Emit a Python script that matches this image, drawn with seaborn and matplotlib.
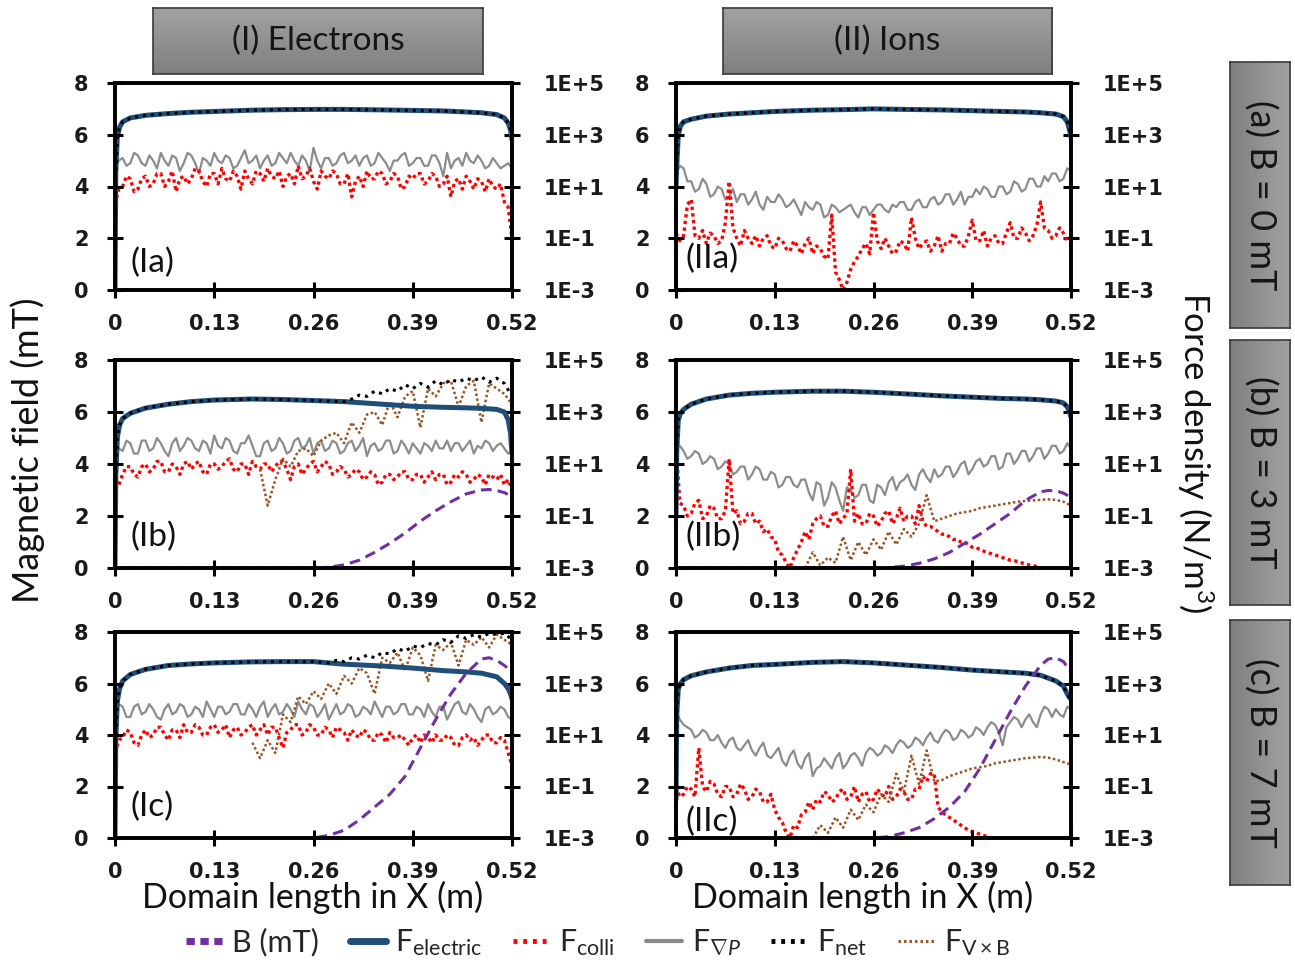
import numpy as np
import matplotlib
matplotlib.use("Agg")
import matplotlib.pyplot as plt
import seaborn as sns
from matplotlib.lines import Line2D
from matplotlib.colors import LinearSegmentedColormap

sns.set_theme(style="white")
plt.rcParams['font.family'] = ['Lato', 'DejaVu Sans']
plt.rcParams['mathtext.fontset'] = 'custom'
plt.rcParams['mathtext.rm'] = 'Lato'
plt.rcParams['mathtext.it'] = 'Lato:italic'
plt.rcParams['mathtext.bf'] = 'Lato:bold'

nan = np.nan

# x positions (m)
x_fine = np.round(np.arange(105) * 0.005, 3)
x_grid = np.round(np.arange(53) * 0.01, 2)
x_elec = [0, 0.001, 0.003, 0.006, 0.01, 0.02, 0.04, 0.07, 0.1, 0.13, 0.18, 0.22,
          0.26, 0.3, 0.35, 0.39, 0.43, 0.46, 0.48, 0.5, 0.51, 0.515, 0.518, 0.52]
x_bfield = [0, 0.1, 0.2, 0.24, 0.26, 0.28, 0.3, 0.32, 0.34, 0.36, 0.38, 0.4, 0.42,
            0.44, 0.46, 0.48, 0.49, 0.5, 0.51, 0.52]

# magnetic field (mT)
bfield_a = [0] * 20
bfield_Ib = [0, 0, 0, 0, 0, 0.03, 0.12, 0.3, 0.6, 0.95, 1.35, 1.8, 2.2, 2.55, 2.85, 3.0, 3.02, 2.98, 2.9, 2.75]
bfield_IIb = [0, 0, 0, 0, 0, 0.02, 0.07, 0.18, 0.35, 0.6, 0.95, 1.3, 1.7, 2.1, 2.6, 2.93, 2.98, 2.97, 2.88, 2.72]
bfield_Ic = [0, 0, 0, 0, 0, 0.1, 0.3, 0.7, 1.2, 1.7, 2.4, 3.5, 4.6, 5.6, 6.4, 6.95, 7.0, 6.9, 6.7, 6.45]
bfield_IIc = [0, 0, 0, 0, 0, 0.05, 0.2, 0.4, 0.75, 1.2, 1.8, 2.7, 3.8, 4.9, 5.9, 6.7, 6.95, 7.0, 6.85, 6.45]

# force densities, log10(N/m^3)
elec_Ia = [-3.0, 1.5, 2.9, 3.3, 3.5, 3.65, 3.75, 3.82, 3.87, 3.9, 3.95, 3.97,
           3.98, 3.98, 3.96, 3.94, 3.92, 3.88, 3.85, 3.78, 3.65, 3.45, 3.2, 2.8]
elec_IIa = [1.0, 1.8, 3.0, 3.35, 3.5, 3.6, 3.72, 3.8, 3.85, 3.9, 3.95, 3.97,
            4.0, 3.98, 3.96, 3.93, 3.9, 3.88, 3.85, 3.8, 3.7, 3.5, 3.2, 2.9]
elec_Ib = [-3.0, 0.5, 2.0, 2.5, 2.75, 2.95, 3.15, 3.3, 3.4, 3.46, 3.5, 3.48,
           3.44, 3.4, 3.3, 3.22, 3.18, 3.16, 3.14, 3.1, 3.0, 2.7, 2.2, 1.4]
elec_IIb = [-1.0, 1.5, 2.7, 2.95, 3.1, 3.3, 3.5, 3.65, 3.72, 3.76, 3.8, 3.8,
            3.76, 3.7, 3.62, 3.57, 3.52, 3.5, 3.47, 3.42, 3.35, 3.2, 3.0, 2.8]
elec_Ic = [-3.0, 0.8, 2.3, 2.8, 3.1, 3.35, 3.55, 3.7, 3.76, 3.8, 3.84, 3.85,
           3.85, 3.75, 3.68, 3.6, 3.5, 3.45, 3.4, 3.26, 3.0, 2.8, 2.6, 2.4]
elec_IIc = [-1.5, 1.8, 2.8, 3.0, 3.15, 3.3, 3.45, 3.6, 3.7, 3.74, 3.82, 3.85,
            3.8, 3.72, 3.62, 3.52, 3.45, 3.4, 3.32, 3.1, 2.9, 2.6, 2.45, 2.4]

# pressure-gradient force, every 0.005 m
grad_Ia = [1.7, 2.0, 2.1, 1.8, 1.9, 2.3, 2.2, 1.9, 1.8, 2.2,
           2.0, 1.7, 2.3, 2.0, 1.8, 2.2, 2.1, 1.6, 1.9, 2.3,
           2.2, 1.9, 1.5, 2.1, 2.0, 1.8, 2.3, 2.0, 1.9, 2.2,
           2.1, 1.7, 1.8, 2.1, 2.4, 1.9, 2.0, 2.2, 1.7, 2.0,
           2.2, 1.8, 1.9, 2.3, 2.1, 1.9, 2.3, 2.0, 1.8, 2.2,
           2.0, 1.6, 2.5, 2.0, 1.7, 2.1, 2.1, 1.8, 1.9, 2.2,
           2.3, 1.9, 2.0, 2.2, 1.8, 2.1, 2.2, 1.8, 1.9, 2.3,
           2.1, 1.9, 1.6, 2.0, 2.0, 2.2, 2.3, 1.8, 1.9, 2.1,
           2.1, 1.8, 1.8, 2.2, 2.2, 1.9, 1.4, 2.3, 1.7, 2.0,
           2.1, 1.8, 2.3, 2.0, 1.9, 2.2, 2.0, 1.7, 1.8, 2.1,
           1.9, 1.7, 1.8, 1.9, 1.7]
grad_IIa = [1.5, 1.8, 1.7, 1.2, 1.2, 0.8, 0.9, 1.3, 1.1, 0.6,
            0.7, 1.0, 0.9, 0.5, 0.6, 0.9, 0.4, 0.7, 0.7, 0.3,
            0.5, 0.8, 0.3, 0.1, 0.6, 0.4, 0.4, 0.7, 0.5, 0.2,
            0.3, 0.5, 0.2, -0.1, 0.4, 0.2, 0.1, 0.4, 0.3, -0.2,
            -0.1, 0.3, 0.2, 0.0, 0.1, 0.2, 0.3, 0.0, -0.2, 0.2,
            0.2, -0.1, 0.1, 0.3, 0.3, 0.1, 0.0, 0.3, 0.2, 0.4,
            0.4, 0.1, 0.1, 0.4, 0.5, 0.2, 0.2, 0.5, 0.6, 0.3,
            0.4, 0.7, 0.7, 0.3, 0.5, 0.8, 0.3, 0.6, 0.6, 0.9,
            0.7, 1.0, 0.9, 0.6, 0.6, 1.0, 1.0, 0.7, 0.8, 1.2,
            1.1, 0.8, 0.9, 1.3, 1.3, 1.0, 1.0, 1.4, 1.2, 1.5,
            1.5, 1.2, 1.3, 1.7, 1.6]
grad_Ib = [1.2, 1.6, 1.5, 1.9, 1.8, 1.4, 1.4, 1.9, 1.9, 1.5,
           1.6, 2.0, 1.8, 1.5, 1.3, 1.8, 2.0, 1.5, 1.7, 2.0,
           1.9, 1.6, 1.5, 1.9, 1.8, 1.4, 2.1, 1.7, 1.6, 2.0,
           1.9, 1.5, 1.4, 1.8, 1.8, 2.1, 1.7, 1.3, 1.3, 1.8,
           1.9, 1.5, 1.6, 2.0, 1.8, 1.4, 1.5, 1.9, 2.0, 1.6,
           1.7, 2.0, 1.4, 1.8, 1.9, 1.5, 1.6, 1.9, 1.8, 1.4,
           1.5, 1.8, 1.9, 1.5, 1.7, 2.0, 1.3, 1.7, 1.8, 1.5,
           1.6, 1.9, 1.9, 1.4, 1.5, 1.9, 1.7, 1.4, 1.8, 1.6,
           1.4, 1.8, 1.7, 1.5, 1.9, 1.6, 1.6, 1.9, 1.5, 1.8,
           1.8, 1.5, 1.7, 1.9, 1.4, 1.7, 1.6, 1.9, 1.8, 1.5,
           1.7, 1.8, 1.6, 1.4, 1.5]
grad_IIb = [1.6, 1.7, 1.5, 1.2, 1.3, 1.5, 1.4, 1.0, 1.1, 1.3,
            1.2, 0.8, 0.9, 1.1, 1.0, 0.6, 0.7, 0.9, 0.9, 0.4,
            0.6, 0.9, 0.8, 0.4, 0.4, 0.7, 0.6, 0.1, 0.2, 0.5,
            0.5, 0.2, 0.1, 0.4, 0.4, -0.1, -0.4, 0.3, 0.2, -0.6,
            -0.3, 0.3, 0.1, -0.4, -0.8, 0.1, 0.0, -0.3, -0.2, 0.2,
            0.2, -0.4, -0.5, 0.2, 0.1, -0.2, 0.3, 0.5, 0.0, 0.3,
            0.4, 0.6, 0.2, 0.0, 0.6, 0.8, 0.5, 0.3, 0.8, 0.5,
            0.6, 0.9, 0.9, 0.5, 0.7, 1.0, 1.1, 0.6, 0.8, 1.1,
            1.2, 0.9, 1.0, 1.3, 1.3, 0.8, 0.9, 1.4, 1.4, 1.0,
            1.2, 1.5, 1.5, 1.1, 1.3, 1.6, 1.6, 1.2, 1.4, 1.7,
            1.7, 1.4, 1.5, 1.8, 1.6]
grad_Ic = [1.8, 2.2, 2.1, 1.7, 1.7, 2.1, 2.2, 1.8, 1.9, 2.2,
           2.0, 1.7, 1.6, 2.0, 2.2, 1.8, 1.9, 2.2, 2.1, 1.7,
           1.8, 2.1, 2.0, 1.7, 2.3, 2.0, 1.7, 2.1, 2.1, 1.8,
           1.9, 2.2, 2.2, 1.8, 1.8, 2.2, 2.0, 1.7, 2.1, 2.3,
           1.7, 2.0, 2.2, 1.8, 1.9, 2.2, 2.0, 1.7, 2.3, 2.0,
           1.8, 2.2, 2.1, 1.7, 1.9, 2.2, 1.6, 1.9, 2.2, 1.8,
           1.9, 2.2, 2.1, 1.7, 1.8, 2.1, 2.0, 1.8, 2.3, 2.0,
           1.7, 2.1, 2.1, 1.8, 1.9, 2.2, 2.2, 1.8, 1.8, 2.1,
           2.0, 1.7, 2.2, 1.9, 1.7, 2.1, 2.1, 1.6, 1.9, 2.2,
           2.3, 1.9, 1.8, 2.2, 2.0, 1.7, 1.5, 2.0, 2.1, 1.8,
           1.9, 2.1, 2.0, 1.7, 1.6]
grad_IIc = [2.0, 1.6, 1.4, 1.3, 1.2, 0.9, 1.0, 1.2, 1.1, 0.8,
            0.8, 1.0, 0.7, 0.5, 0.8, 0.9, 0.5, 0.4, 0.6, 0.8,
            0.4, 0.2, 0.5, 0.7, 0.2, 0.1, 0.3, 0.5, 0.0, -0.2,
            0.2, 0.4, -0.1, -0.3, 0.1, 0.3, -0.6, -0.3, -0.2, 0.1,
            -0.1, -0.3, 0.1, 0.3, -0.3, -0.1, 0.2, 0.3, 0.1, -0.2,
            0.3, 0.5, 0.4, 0.2, 0.3, 0.6, 0.5, 0.3, 0.6, 0.8,
            0.7, 0.5, 0.6, 0.9, 0.8, 0.6, 0.9, 1.1, 0.8, 0.7,
            1.0, 1.2, 1.1, 0.8, 0.9, 1.2, 1.1, 0.9, 1.0, 1.3,
            1.2, 1.0, 1.3, 1.5, 1.4, 1.1, 0.6, 1.3, 1.5, 1.7,
            1.6, 1.3, 1.6, 1.8, 1.5, 1.3, 1.8, 2.1, 2.0, 1.7,
            2.0, 1.8, 1.7, 2.1, 2.0]

# collision force, every 0.005 m (nan = below 1E-3)
colli_Ia = [0.3, 0.9, 1.0, 1.4, 1.3, 0.8, 0.9, 1.3, 1.4, 1.0,
            1.1, 1.5, 1.5, 1.0, 1.2, 1.6, 0.8, 1.3, 1.4, 1.1,
            1.3, 1.7, 1.6, 1.2, 1.0, 1.5, 1.5, 1.1, 1.7, 1.3,
            1.2, 1.6, 1.4, 0.9, 1.6, 1.3, 1.1, 1.6, 1.5, 1.2,
            1.7, 1.4, 1.3, 1.6, 1.0, 1.4, 1.5, 1.1, 1.8, 1.3,
            1.4, 1.7, 1.2, 0.9, 1.6, 1.4, 1.3, 1.6, 1.5, 1.1,
            1.1, 1.5, 0.6, 1.2, 1.4, 1.0, 1.6, 1.3, 1.3, 1.6,
            1.5, 1.1, 1.2, 1.5, 1.4, 0.9, 1.0, 1.4, 1.3, 1.5,
            1.5, 1.1, 1.2, 1.5, 1.4, 1.0, 1.1, 1.4, 0.6, 1.2,
            1.3, 0.9, 1.4, 1.2, 0.9, 1.3, 1.2, 0.8, 1.3, 1.0,
            0.9, 1.1, 0.4, 0.2, -1.0]
colli_IIa = [-0.8, -1.1, -0.9, 0.3, 0.5, -0.9, -1.0, -0.7, -1.2, -0.8,
             -0.9, -1.2, -1.1, -0.4, 1.2, -0.6, -1.0, -1.3, -0.7, -1.0,
             -1.2, -0.9, -1.3, -1.0, -0.9, -1.3, -1.4, -1.0, -1.1, -1.4,
             -1.5, -1.1, -1.3, -1.6, -1.2, -1.0, -1.6, -1.3, -1.4, -1.7,
             -1.8, -0.1, -2.3, -2.6, -3.0, -2.7, -2.2, -1.9, -1.7, -1.4,
             -1.2, -1.6, 0.0, -1.1, -1.4, -1.0, -1.3, -1.6, -1.5, -1.1,
             -1.2, -1.5, -0.2, -1.0, -1.4, -1.2, -1.1, -1.5, -1.3, -0.9,
             -1.5, -1.2, -1.2, -0.8, -1.0, -1.3, -1.3, -0.9, -0.3, -1.1,
             -1.1, -0.7, -1.3, -1.0, -0.9, -1.2, -1.2, -0.8, -0.4, -1.0,
             -1.0, -0.6, -0.8, -1.1, -0.9, -0.5, 0.4, -0.6, -0.7, -1.0,
             -0.9, -0.6, -0.8, -1.1, -1.0]
colli_Ib = [0.4, 0.2, 0.6, 0.9, 0.9, 0.6, 0.5, 0.9, 1.0, 0.7,
            0.8, 1.1, 1.1, 0.7, 0.7, 1.0, 0.9, 0.6, 1.0, 1.1,
            0.8, 1.0, 1.1, 0.7, 0.6, 1.0, 1.0, 0.8, 0.9, 1.1,
            1.2, 0.8, 0.7, 1.0, 1.0, 0.6, 1.1, 0.9, 0.8, 1.0,
            1.0, 0.7, 0.9, 1.1, 1.1, 0.8, 0.4, 0.9, 1.0, 0.6,
            0.8, 1.0, 1.1, 0.7, 0.9, 1.1, 1.0, 0.6, 0.7, 0.9,
            0.8, 0.5, 0.6, 0.8, 0.7, 0.4, 0.5, 0.7, 0.6, 0.2,
            0.3, 0.6, 0.6, 0.4, 0.5, 0.7, 0.7, 0.4, 0.4, 0.6,
            0.6, 0.3, 0.5, 0.7, 0.4, 0.6, 0.6, 0.2, 0.3, 0.6,
            0.5, 0.7, 0.6, 0.3, 0.4, 0.6, 0.5, 0.2, 0.6, 0.5,
            0.4, 0.6, 0.2, 0.4, 0.0]
colli_IIb = [1.8, -0.5, -0.6, -1.0, -0.9, -0.5, -0.4, -1.1, -1.0, -0.6,
             -0.7, -1.1, -1.1, -0.8, 1.2, -0.9, -0.8, -1.3, -1.2, -0.9,
             -0.9, -1.3, -1.2, -1.6, -1.5, -1.8, -1.9, -2.4, -2.5, -2.8,
             -3.0, -2.6, -2.3, -2.0, -1.6, -1.9, -1.3, -1.1, -1.0, -1.4,
             -1.4, -1.0, -0.8, -1.3, -1.1, -0.9, 0.8, -1.2, -0.9, -1.3,
             -1.3, -0.9, -1.0, -1.4, -1.2, -0.9, -0.8, -1.3, -1.1, -0.7,
             -1.2, -1.0, -1.0, -1.3, -0.6, -1.2, -1.4, -1.4, -1.5, -1.6,
             -1.7, -1.7, -1.8, -1.9, -1.9, -2.0, -2.0, -2.1, -2.2, -2.2,
             -2.3, -2.35, -2.4, -2.45, -2.5, -2.55, -2.6, -2.65, -2.7, -2.72,
             -2.75, -2.8, -2.85, -2.88, -2.9, -2.95, -3.0] + [nan] * 8
colli_Ic = [0.3, 0.8, 0.9, 1.2, 1.1, 0.7, 0.6, 1.0, 1.2, 0.9,
            1.0, 1.3, 1.3, 1.0, 0.8, 1.2, 1.2, 0.9, 1.4, 1.1,
            1.1, 1.4, 1.3, 1.0, 1.0, 1.3, 1.4, 1.1, 1.2, 1.4,
            0.9, 1.2, 1.3, 1.0, 1.1, 1.3, 1.4, 1.0, 1.2, 1.4,
            1.0, 1.3, 1.3, 0.9, 0.5, 1.1, 1.2, 1.4, 1.4, 1.0,
            1.1, 1.4, 1.3, 1.0, 1.0, 1.3, 1.2, 0.9, 1.3, 1.2,
            1.1, 0.8, 1.2, 1.0, 0.9, 1.2, 1.1, 0.8, 0.8, 1.1,
            1.0, 0.7, 1.1, 0.9, 0.9, 1.0, 0.8, 0.6, 0.9, 1.0,
            0.7, 1.0, 0.9, 0.7, 1.0, 0.8, 0.8, 1.0, 0.9, 0.6,
            0.6, 0.9, 1.0, 0.8, 0.9, 0.6, 0.8, 1.0, 1.0, 0.7,
            0.7, 0.9, 0.8, 0.3, -0.2]
colli_IIc = [-1.0, -1.4, -1.3, -1.0, -1.1, -1.4, 0.5, -1.0, -1.2, -0.8,
             -0.9, -1.3, -1.4, -1.0, -1.0, -1.4, -1.3, -0.9, -1.1, -1.5,
             -1.4, -1.1, -1.2, -1.6, -1.6, -1.3, -1.9, -2.2, -2.4, -2.8,
             -3.0, -2.5, -2.6, -2.1, -2.0, -1.6, -1.9, -1.5, -1.6, -1.2,
             -1.3, -1.6, -1.5, -1.2, -1.1, -1.5, -1.4, -1.0, -1.6, -1.3,
             -1.2, -1.6, -1.5, -1.1, -1.3, -1.4, -1.0, -1.5, -1.4, -1.1,
             -1.2, -1.5, -1.5, -1.1, -1.1, -0.6, -0.8, -0.5, -0.5, -1.8,
             -2.0, -2.1, -2.2, -2.3, -2.4, -2.5, -2.6, -2.7, -2.75, -2.8,
             -2.85, -2.9, -2.95, -3.0] + [nan] * 21

# V x B force, every 0.01 m, only the tail of the domain (ends at x = 0.52)
vxb_Ib = [0.8, -0.6, 0.4, 1.2, 0.9, 1.5, 1.6, 1.3, 1.9, 2.1,
          2.2, 1.8, 2.6, 2.2, 2.9, 3.0, 2.5, 3.4, 2.8, 3.6,
          3.8, 2.4, 3.9, 3.6, 4.1, 4.2, 3.2, 4.0, 4.2, 2.6,
          4.1, 3.9, 3.7, 3.3]
vxb_IIb = [-3.0, -2.4, -2.9, -2.6, -2.8, -1.8, -2.7, -2.0, -2.5, -1.9,
           -2.3, -1.6, -2.1, -1.5, -1.8, -1.3, -0.2, -1.2, -1.1, -1.0,
           -0.9, -0.85, -0.8, -0.7, -0.65, -0.6, -0.55, -0.5, -0.45, -0.42,
           -0.4, -0.38, -0.36, -0.38, -0.45, -0.6]
vxb_Ic = [0.7, 0.1, 0.8, 0.3, 1.8, 1.5, 2.5, 2.2, 2.7, 2.4,
          3.0, 2.6, 3.3, 3.0, 3.6, 3.4, 2.6, 4.0, 3.8, 4.2,
          3.5, 4.4, 4.1, 3.1, 4.5, 4.3, 4.6, 3.7, 4.7, 4.5,
          4.8, 4.4, 4.9, 4.7, 4.5]
vxb_IIc = [-3.0, -2.5, -2.8, -2.2, -2.6, -1.9, -2.3, -1.7, -2.0, -1.3,
           -1.6, -0.5, -1.2, 0.2, -0.9, 0.4, -0.8, -0.75, -0.6, -0.5,
           -0.4, -0.3, -0.25, -0.2, -0.1, -0.05, 0.0, 0.05, 0.1, 0.12,
           0.15, 0.12, 0.05, -0.05, -0.15]

# net force where it departs from F_electric (tail of the domain, every 0.01 m)
net_tail_Ib = [3.5, 3.65, 3.6, 3.8, 3.7, 3.9, 3.8, 4.05, 3.9, 4.1, 3.95,
               4.2, 4.05, 4.25, 4.15, 4.3, 4.2, 4.35, 4.15, 4.3, 4.1, 3.6]
net_tail_Ic = [3.8, 3.9, 3.85, 4.0, 3.95, 4.1, 4.0, 4.2, 4.15, 4.35, 4.25, 4.45, 4.4,
               4.55, 4.5, 4.7, 4.6, 4.85, 4.75, 4.9, 4.8, 4.95, 4.9, 4.95, 4.7]

xTicks = [0, 0.13, 0.26, 0.39, 0.52]
xTickLabels = ['0', '0.13', '0.26', '0.39', '0.52']
bTicks = [0, 2, 4, 6, 8]
fTicks = [1e-3, 1e-1, 1e1, 1e3, 1e5]
fTickLabels = ['1E-3', '1E-1', '1E+1', '1E+3', '1E+5']

cB = '#7030a0'
cElec = '#1f4e79'
cColli = '#ff0000'
cGrad = '#8c8c8c'
cNet = '#000000'
cVxb = '#9a5424'

fig = plt.figure(figsize=(12.95, 9.65), dpi=100)
W, H = 1295.0, 965.0
tickFont = dict(fontfamily='DejaVu Sans', fontsize=15, fontweight='bold')


def pxRect(x0, y0, x1, y1):
    return [x0 / W, 1 - y1 / H, (x1 - x0) / W, (y1 - y0) / H]


def drawPanel(rect, label, labelPos, bfield, elec, grad, colli, vxb=None, netX=None, netY=None):
    ax = fig.add_axes(rect)
    ax2 = ax.twinx()
    ax2.set_yscale('log')
    ax.set_zorder(ax2.get_zorder() + 1)
    ax.patch.set_visible(False)

    xf = list(x_fine)
    xg = list(x_grid)
    sns.lineplot(x=xf, y=np.power(10.0, grad), ax=ax2, color=cGrad, lw=1.6, estimator=None)
    sns.lineplot(x=xf, y=np.power(10.0, colli), ax=ax2, color=cColli, lw=2.4,
                 linestyle=(0, (1, 1)), estimator=None)
    if vxb is not None:
        sns.lineplot(x=xg[-len(vxb):], y=np.power(10.0, vxb), ax=ax2, color=cVxb, lw=1.8,
                     linestyle=(0, (1, 1)), estimator=None)
    sns.lineplot(x=x_elec, y=np.power(10.0, elec), ax=ax2, color=cElec, lw=3.6, estimator=None)
    if netX is None:
        netX, netY = x_elec, elec
    sns.lineplot(x=netX, y=np.power(10.0, netY), ax=ax2, color=cNet, lw=2.2,
                 linestyle=(0, (1, 1.6)), estimator=None)
    sns.lineplot(x=x_bfield, y=bfield, ax=ax, color=cB, lw=2.2,
                 linestyle=(0, (3.5, 2)), estimator=None)

    ax.set_xlim(0, 0.52)
    ax.set_ylim(0, 8)
    ax2.set_ylim(1e-3, 1e5)
    ax.set_xticks(xTicks)
    ax.set_xticklabels(xTickLabels, **tickFont)
    ax.set_yticks(bTicks)
    ax.set_yticklabels([str(t) for t in bTicks], **tickFont)
    ax2.yaxis.set_major_locator(matplotlib.ticker.FixedLocator(fTicks))
    ax2.yaxis.set_minor_locator(matplotlib.ticker.NullLocator())
    ax2.set_yticklabels(fTickLabels, **tickFont)
    ax.set_xlabel('')
    ax.set_ylabel('')
    ax2.set_ylabel('')
    for a in (ax, ax2):
        for s in a.spines.values():
            s.set_color('black')
            s.set_linewidth(2.6)
        a.tick_params(direction='inout', length=12, width=2.2, color='black',
                      labelcolor='#1a1a1a', pad=10)
    ax.tick_params(axis='y', left=True, right=False, pad=13)
    ax.tick_params(axis='x', bottom=True, pad=11)
    ax2.tick_params(axis='y', right=True, left=False, pad=17)
    ax.text(labelPos[0], labelPos[1], label, transform=ax.transAxes, fontsize=24,
            ha='left', va='center', color='#111111')
    return ax


leftCol = (115, 512)
rightCol = (676, 1071)
rows = [(83, 290), (360, 568), (632, 838)]

drawPanel(pxRect(leftCol[0], rows[0][0], leftCol[1], rows[0][1]), '(Ia)', (0.04, 0.13),
          bfield_a, elec_Ia, grad_Ia, colli_Ia)
drawPanel(pxRect(rightCol[0], rows[0][0], rightCol[1], rows[0][1]), '(IIa)', (0.025, 0.15),
          bfield_a, elec_IIa, grad_IIa, colli_IIa)
drawPanel(pxRect(leftCol[0], rows[1][0], leftCol[1], rows[1][1]), '(Ib)', (0.04, 0.15),
          bfield_Ib, elec_Ib, grad_Ib, colli_Ib, vxb_Ib,
          x_elec[:14] + list(x_grid[31:]), elec_Ib[:14] + net_tail_Ib)
drawPanel(pxRect(rightCol[0], rows[1][0], rightCol[1], rows[1][1]), '(IIb)', (0.025, 0.15),
          bfield_IIb, elec_IIb, grad_IIb, colli_IIb, vxb_IIb)
drawPanel(pxRect(leftCol[0], rows[2][0], leftCol[1], rows[2][1]), '(Ic)', (0.04, 0.15),
          bfield_Ic, elec_Ic, grad_Ic, colli_Ic, vxb_Ic,
          x_elec[:13] + list(x_grid[28:]), elec_Ic[:13] + net_tail_Ic)
drawPanel(pxRect(rightCol[0], rows[2][0], rightCol[1], rows[2][1]), '(IIc)', (0.025, 0.08),
          bfield_IIc, elec_IIc, grad_IIc, colli_IIc, vxb_IIc)

grayMap = LinearSegmentedColormap.from_list('hdr', ['#a2a2a2', '#7f7f7f'])


def grayBox(rect, text, vertical=False):
    bax = fig.add_axes(rect)
    ramp = np.linspace(0, 1, 128)
    img = ramp[::-1][None, :] if vertical else ramp[:, None]
    bax.imshow(img, aspect='auto', cmap=grayMap, extent=[0, 1, 0, 1])
    bax.set_xticks([])
    bax.set_yticks([])
    for s in bax.spines.values():
        s.set_color('#3a3a3a')
        s.set_linewidth(1.2)
        s.set_visible(True)
    bax.text(0.5, 0.5, text, rotation=-90 if vertical else 0, ha='center', va='center',
             fontsize=26 if vertical else 24, color='#151515', transform=bax.transAxes)


grayBox(pxRect(153, 8, 483, 74), '(I) Electrons')
grayBox(pxRect(723, 8, 1052, 74), '(II) Ions')
grayBox(pxRect(1230, 62, 1290, 328), '(a) B = 0 mT', vertical=True)
grayBox(pxRect(1230, 340, 1290, 605), '(b) B = 3 mT', vertical=True)
grayBox(pxRect(1230, 620, 1290, 885), '(c) B = 7 mT', vertical=True)

fig.text(28 / W, 1 - 450 / H, 'Magnetic field (mT)', rotation=90, ha='center', va='center',
         fontsize=26, color='#111111')
fig.text(1195 / W, 1 - 452 / H, 'Force density (N/m$^3$)', rotation=-90, ha='center',
         va='center', fontsize=25, color='#111111')
fig.text(313 / W, 1 - 897 / H, 'Domain length in X (m)', ha='center', va='center',
         fontsize=24.5, color='#111111')
fig.text(863 / W, 1 - 897 / H, 'Domain length in X (m)', ha='center', va='center',
         fontsize=24.5, color='#111111')

handles = [
    Line2D([], [], color=cB, lw=5, linestyle=(0, (1.2, 0.8))),
    Line2D([], [], color=cElec, lw=5),
    Line2D([], [], color=cColli, lw=3.5, linestyle=(0, (0.8, 1.2))),
    Line2D([], [], color=cGrad, lw=3),
    Line2D([], [], color=cNet, lw=3.5, linestyle=(0, (0.8, 1.2))),
    Line2D([], [], color=cVxb, lw=2.2, linestyle=(0, (0.8, 1.0))),
]
labels = ['B (mT)', r'F$_{\rm electric}$', r'F$_{\rm colli}$', r'F$_{\nabla P}$',
          r'F$_{\rm net}$', r'F$_{\rm V\times B}$']
fig.legend(handles, labels, loc='center', bbox_to_anchor=(598 / W, 1 - 943 / H), ncol=6,
           frameon=False, fontsize=22, handlelength=1.2, handletextpad=0.3,
           columnspacing=1.0)

fig.savefig('out.png', dpi=100)
